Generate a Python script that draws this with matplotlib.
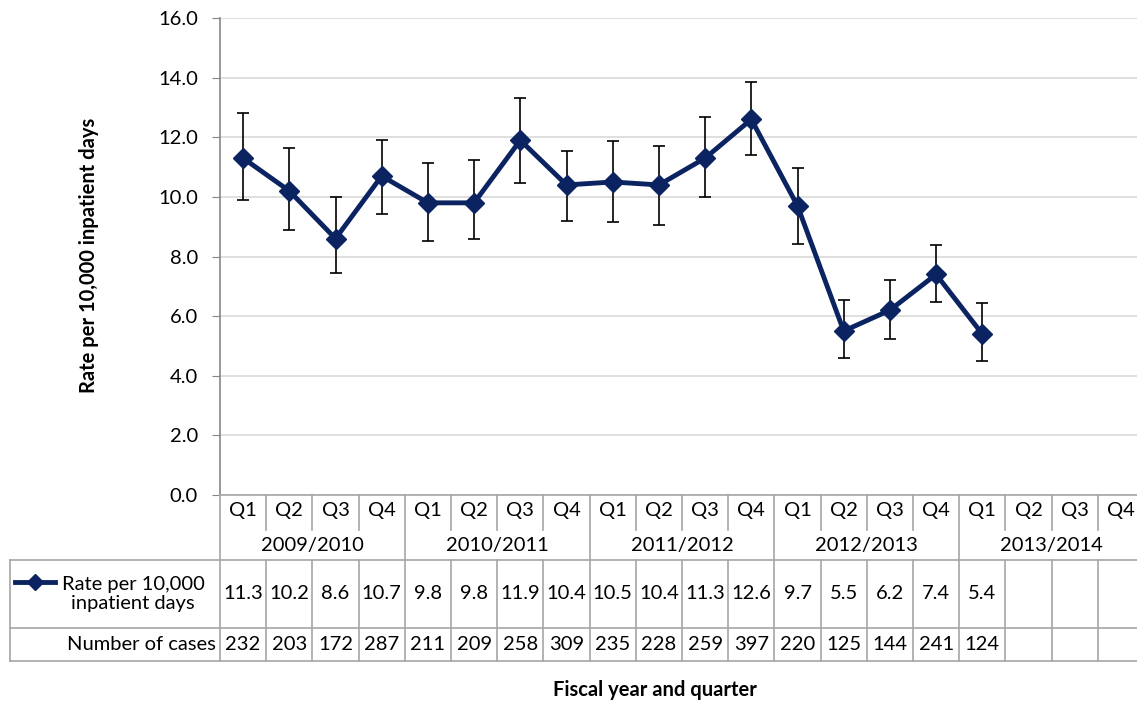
import matplotlib.pyplot as plt
import numpy as np

plt.rcParams['font.family'] = ['Lato', 'DejaVu Sans']

quarters = ['Q1', 'Q2', 'Q3', 'Q4'] * 5
years = ['2009/2010', '2010/2011', '2011/2012', '2012/2013', '2013/2014']
rate = [11.3, 10.2, 8.6, 10.7, 9.8, 9.8, 11.9, 10.4, 10.5, 10.4, 11.3, 12.6,
        9.7, 5.5, 6.2, 7.4, 5.4]
upper = [12.82, 11.64, 10.0, 11.91, 11.14, 11.24, 13.32, 11.54, 11.88, 11.71,
         12.68, 13.86, 10.97, 6.54, 7.21, 8.39, 6.44]
lower = [9.9, 8.89, 7.45, 9.43, 8.52, 8.59, 10.47, 9.19, 9.16, 9.06, 10.0,
         11.41, 8.42, 4.6, 5.23, 6.48, 4.5]
cases = [232, 203, 172, 287, 211, 209, 258, 309, 235, 228, 259, 397, 220,
         125, 144, 241, 124]

W, H = 1137, 701
navy = '#0B2461'
grid_c = '#D9D9D9'
line_c = '#A6A6A6'
fs = 14.5

fig = plt.figure(figsize=(W / 100, H / 100), dpi=100)
ax = fig.add_axes([220 / W, (H - 495) / H, 924 / W, 477 / H])

x = np.arange(len(rate))
yerr = [np.array(rate) - np.array(lower), np.array(upper) - np.array(rate)]
ax.errorbar(x, rate, yerr=yerr, fmt='none', ecolor='black', elinewidth=1.2,
            capsize=4, capthick=1.2, zorder=2)
ax.plot(x, rate, color=navy, lw=3.5, marker='D', markersize=10, zorder=3)

ax.set_xlim(-0.5, 19.5)
ax.set_ylim(0, 16)
ax.set_yticks(np.arange(0, 16.1, 2))
ax.set_yticklabels([f'{v:.1f}' for v in np.arange(0, 16.1, 2)], fontsize=fs)
ax.set_xticks([])
ax.yaxis.grid(True, color=grid_c, lw=1.2)
ax.set_axisbelow(True)
for s in ['top', 'right', 'bottom']:
    ax.spines[s].set_visible(False)
ax.spines['left'].set_color('#868686')
ax.spines['left'].set_linewidth(1.2)
ax.tick_params(axis='y', length=6, color='#868686', pad=10)
ax.set_ylabel('Rate per 10,000 inpatient days', fontsize=fs, fontweight='bold')
ax.yaxis.set_label_coords((99 - 220) / 924, (495 - 255) / 477)

# data table below the plot, y in pixel rows
tab = fig.add_axes([220 / W, (H - 662) / H, 924 / W, 167 / H])
tab.set_xlim(-0.5, 19.5)
tab.set_ylim(662, 495)
tab.axis('off')
w = 924 / 20
xl = -0.5 + (10 - 220) / w
n = len(quarters)

kw = dict(color=line_c, lw=1.2, clip_on=False)
tab.plot([-0.5, 19.5], [495.5, 495.5], **kw)
for y in [560, 628, 661]:
    tab.plot([xl, 19.5], [y, y], **kw)
tab.plot([xl, xl], [560, 661], **kw)
for i in range(n + 1):
    b = i - 0.5
    if i % 4 == 0:
        tab.plot([b, b], [495, 661], **kw)
    else:
        tab.plot([b, b], [495, 530], **kw)
        tab.plot([b, b], [560, 661], **kw)

for i, q in enumerate(quarters):
    tab.text(i, 511, q, ha='center', va='center', fontsize=fs)
for k, yr in enumerate(years):
    tab.text(4 * k + 1.5, 546, yr, ha='center', va='center', fontsize=fs)
for i, v in enumerate(rate):
    tab.text(i, 594, f'{v:.1f}', ha='center', va='center', fontsize=fs)
for i, v in enumerate(cases):
    tab.text(i, 645, str(v), ha='center', va='center', fontsize=fs)

lx0 = -0.5 + (15 - 220) / w
lx1 = -0.5 + (55 - 220) / w
tab.plot([lx0, lx1], [582, 582], color=navy, lw=3.5, clip_on=False)
tab.plot([(lx0 + lx1) / 2], [582], color=navy, marker='D', markersize=8,
         clip_on=False)
tab.text(-0.5 + (133 - 220) / w, 594, 'Rate per 10,000\ninpatient days',
         ha='center', va='center', fontsize=fs, linespacing=1.1)
tab.text(-0.5 + (216 - 220) / w, 645, 'Number of cases', ha='right',
         va='center', fontsize=fs)

fig.text(655 / W, 1 - 690 / H, 'Fiscal year and quarter', ha='center',
         va='center', fontsize=fs, fontweight='bold')

fig.savefig('out.png', dpi=100)
